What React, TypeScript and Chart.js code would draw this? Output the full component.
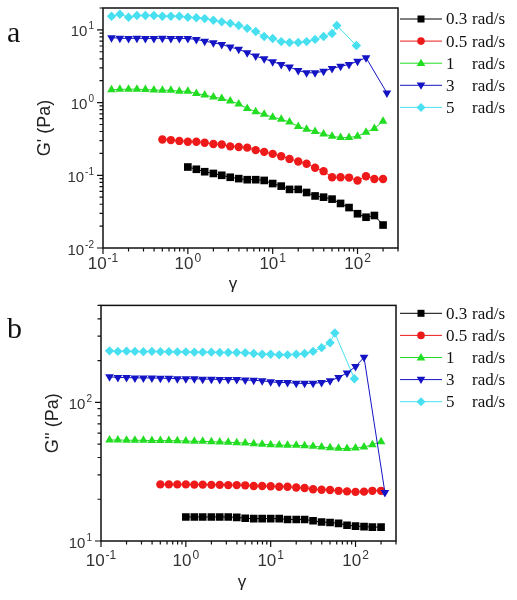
import React, { useEffect, useRef } from 'react';
import { Chart, registerables } from 'chart.js';

Chart.register(...registerables);

// strain amplitude grid (log sweep)
const STRAIN = [0.126, 0.158, 0.2, 0.251, 0.316, 0.398, 0.501, 0.631, 0.794, 1, 1.26, 1.58, 2, 2.51, 3.16, 3.98, 5.01, 6.31, 7.94, 10, 12.6, 15.8, 20, 25.1, 31.6, 39.8, 50.1, 63.1, 79.4, 100, 126, 158, 200];

const SPEEDS = ['0.3', '0.5', '1', '3', '5'];

const X_03 = STRAIN.slice(9);
const X_05 = STRAIN.slice(6);
const X_1 = STRAIN;
const X_3 = [...STRAIN.slice(0, 31), 222];
const X_5 = [...STRAIN.slice(0, 27), 57, 97];

// Panel a : G' (Pa)
const GP_03 = [0.13, 0.121, 0.112, 0.106, 0.1, 0.094, 0.09, 0.087, 0.087, 0.085, 0.077, 0.071, 0.064, 0.064, 0.058, 0.052, 0.05, 0.047, 0.041, 0.036, 0.0296, 0.0265, 0.028, 0.0207];
const GP_05 = [0.31, 0.305, 0.297, 0.29, 0.29, 0.28, 0.27, 0.265, 0.25, 0.245, 0.24, 0.222, 0.21, 0.197, 0.183, 0.168, 0.155, 0.144, 0.127, 0.114, 0.094, 0.094, 0.093, 0.085, 0.097, 0.089, 0.089];
const GP_1 = [1.5, 1.52, 1.53, 1.53, 1.51, 1.49, 1.48, 1.48, 1.43, 1.43, 1.33, 1.27, 1.19, 1.14, 1.05, 0.96, 0.83, 0.75, 0.69, 0.63, 0.59, 0.54, 0.47, 0.43, 0.4, 0.37, 0.345, 0.33, 0.33, 0.345, 0.39, 0.44, 0.555];
const GP_3 = [7.8, 7.7, 7.6, 7.7, 7.6, 7.6, 7.7, 7.6, 7.6, 7.6, 7.4, 7.0, 6.65, 6.3, 5.8, 5.4, 4.85, 4.36, 4.0, 3.65, 3.35, 3.08, 2.77, 2.57, 2.57, 2.7, 2.95, 3.15, 3.35, 3.7, 4.14, 1.36];
const GP_5 = [15.4, 16.4, 14.9, 15.8, 15.8, 15.8, 15.4, 15.4, 15.4, 14.9, 14.7, 14.3, 13.6, 12.9, 12.3, 11.5, 10.5, 9.5, 8.1, 7.6, 6.9, 6.7, 6.7, 6.9, 7.4, 8.1, 8.9, 11.5, 6.1];

// Panel b : G'' (Pa)
const GPP_03 = [14.9, 14.9, 14.9, 14.9, 14.9, 14.9, 14.8, 14.6, 14.5, 14.5, 14.5, 14.5, 14.3, 14.3, 14.3, 14.0, 13.7, 13.6, 13.4, 13.0, 12.8, 12.7, 12.6, 12.6];
const GPP_05 = [25.6, 25.6, 25.6, 25.6, 25.5, 25.5, 25.4, 25.4, 25.3, 25.3, 25.2, 24.9, 24.9, 24.8, 24.6, 24.6, 24.3, 24.1, 23.6, 23.4, 23.3, 23.0, 22.8, 22.6, 22.7, 23.0, 23.0];
const GPP_1 = [53.5, 53.5, 53.3, 53.3, 53.2, 53, 53, 53, 52.8, 52.6, 52.3, 52.3, 52, 51.8, 51.5, 51.2, 50.8, 50.2, 49.8, 49.5, 49.2, 49, 49, 48.6, 48.3, 47.6, 47, 46.6, 46.4, 46.8, 47.6, 49.5, 52];
const GPP_3 = [153, 151, 151, 150, 150, 150, 149, 149, 148, 148, 148, 147, 147, 146, 146, 146, 145, 144, 143, 140.5, 139, 139, 137, 137, 137, 139, 143, 151, 163, 181, 211, 22.4];
const GPP_5 = [235, 233, 234, 233, 232, 233, 232, 232, 231, 231, 230, 230, 230, 229, 229, 229, 228, 225, 222, 222, 220, 220, 222, 225, 233, 248, 269, 316, 148];

const X_SERIES = [X_03, X_05, X_1, X_3, X_5];
const A_SERIES = [GP_03, GP_05, GP_1, GP_3, GP_5];
const B_SERIES = [GPP_03, GPP_05, GPP_1, GPP_3, GPP_5];

const COLORS = ['#000000', '#ee1a1a', '#22dd22', '#1414c4', '#48e0f0'];
const POINT_STYLES = ['rect', 'circle', 'triangle', 'triangle', 'rectRot'];
const ROTATIONS = [0, 0, 0, 180, 0];
const RADII = [5.4, 4.2, 5, 5, 4.7];

const SANS = '"Liberation Sans", Arial, sans-serif';
const SERIF = '"Liberation Serif", "Times New Roman", serif';

function drawMarker(ctx: CanvasRenderingContext2D, i: number, x: number, y: number) {
  ctx.fillStyle = COLORS[i];
  ctx.beginPath();
  if (i === 0) {
    ctx.rect(x - 3.5, y - 3.5, 7, 7);
  } else if (i === 1) {
    ctx.arc(x, y, 3.8, 0, Math.PI * 2);
  } else if (i === 2) {
    ctx.moveTo(x, y - 4.5);
    ctx.lineTo(x + 4.3, y + 2.9);
    ctx.lineTo(x - 4.3, y + 2.9);
  } else if (i === 3) {
    ctx.moveTo(x, y + 4.5);
    ctx.lineTo(x + 4.3, y - 2.9);
    ctx.lineTo(x - 4.3, y - 2.9);
  } else {
    ctx.moveTo(x, y - 4.5);
    ctx.lineTo(x + 4.5, y);
    ctx.lineTo(x, y + 4.5);
    ctx.lineTo(x - 4.5, y);
  }
  ctx.closePath();
  ctx.fill();
}

function drawPow(ctx: CanvasRenderingContext2D, exp: number, x: number, yBase: number, baseSize: number, expSize: number, align: string, rise: number) {
  const base = '10';
  const e = String(exp);
  ctx.font = `${baseSize}px ${SANS}`;
  const wb = ctx.measureText(base).width;
  ctx.font = `${expSize}px ${SANS}`;
  const we = ctx.measureText(e).width;
  const total = wb + we + 1;
  const x0 = align === 'center' ? x - total / 2 : x - total;
  ctx.textAlign = 'left';
  ctx.textBaseline = 'alphabetic';
  ctx.font = `${baseSize}px ${SANS}`;
  ctx.fillText(base, x0, yBase);
  ctx.font = `${expSize}px ${SANS}`;
  ctx.fillText(e, x0 + wb + 1, yBase - rise);
}

function tickInfo(v: number) {
  const e = Math.floor(Math.log10(v) + 1e-9);
  const m = v / Math.pow(10, e);
  if (Math.abs(m - Math.round(m)) > 1e-6) return null;
  return { e, m: Math.round(m) };
}

const decor = {
  id: 'decor',
  afterDraw(chart: any, _args: any, opts: any) {
    const ctx: CanvasRenderingContext2D = chart.ctx;
    const { left, right, top, bottom } = chart.chartArea;
    const xs = chart.scales.x;
    const ys = chart.scales.y;
    ctx.save();
    ctx.strokeStyle = '#111';
    ctx.lineWidth = 1.5;
    ctx.strokeRect(left, top, right - left, bottom - top);

    ctx.lineWidth = 1.2;
    ctx.beginPath();
    xs.ticks.forEach((t: any) => {
      const info = tickInfo(t.value);
      if (!info) return;
      const px = xs.getPixelForValue(t.value);
      if (px < left - 1 || px > right + 1) return;
      const len = info.m === 1 ? 6 : 3.5;
      ctx.moveTo(px, bottom);
      ctx.lineTo(px, bottom + len);
    });
    ys.ticks.forEach((t: any) => {
      const info = tickInfo(t.value);
      if (!info) return;
      const py = ys.getPixelForValue(t.value);
      if (py < top - 1 || py > bottom + 1) return;
      const len = info.m === 1 ? 6 : 3.5;
      ctx.moveTo(left, py);
      ctx.lineTo(left - len, py);
    });
    ctx.stroke();

    ctx.fillStyle = '#333';
    xs.ticks.forEach((t: any) => {
      const info = tickInfo(t.value);
      if (!info || info.m !== 1) return;
      const px = xs.getPixelForValue(t.value);
      if (px < left - 1 || px > right + 1) return;
      drawPow(ctx, info.e, px, bottom + opts.xLabelDy, 17, 12, 'center', 7);
    });
    ys.ticks.forEach((t: any) => {
      const info = tickInfo(t.value);
      if (!info || info.m !== 1) return;
      const py = ys.getPixelForValue(t.value);
      if (py < top - 1 || py > bottom + 1) return;
      drawPow(ctx, info.e, left - 9, py + 6.5, 15, 10, 'right', 7);
    });

    // axis titles
    ctx.fillStyle = '#222';
    ctx.font = `17px ${SANS}`;
    ctx.textAlign = 'center';
    ctx.textBaseline = 'middle';
    ctx.fillText('γ', opts.gammaX, opts.gammaY);
    ctx.save();
    ctx.font = `18px ${SANS}`;
    ctx.translate(opts.yTitleX, (top + bottom) / 2);
    ctx.rotate(-Math.PI / 2);
    ctx.fillText(opts.yTitle, 0, 0);
    ctx.restore();

    // panel letter
    ctx.fillStyle = '#111';
    ctx.font = `30px ${SERIF}`;
    ctx.textAlign = 'left';
    ctx.textBaseline = 'alphabetic';
    ctx.fillText(opts.letter, 7, opts.letterY);

    // legend
    SPEEDS.forEach((s, i) => {
      const y = opts.legendY0 + i * 22.1;
      ctx.strokeStyle = COLORS[i];
      ctx.lineWidth = 1;
      ctx.beginPath();
      ctx.moveTo(400, y);
      ctx.lineTo(442, y);
      ctx.stroke();
      drawMarker(ctx, i, 421, y);
      ctx.fillStyle = '#111';
      ctx.font = `17px ${SERIF}`;
      ctx.textAlign = 'left';
      ctx.textBaseline = 'middle';
      ctx.fillText(s, 446, y + 1);
      ctx.fillText('rad/s', 472, y + 1);
    });
    ctx.restore();
  },
};

function makeChart(canvas: HTMLCanvasElement, series: number[][], p: any) {
  return new Chart(canvas, {
    type: 'scatter',
    data: {
      datasets: series.map((vals, i) => ({
        label: SPEEDS[i] + ' rad/s',
        data: X_SERIES[i].map((x, j) => ({ x, y: vals[j] })),
        showLine: true,
        borderColor: COLORS[i],
        backgroundColor: COLORS[i],
        borderWidth: 1,
        pointStyle: POINT_STYLES[i],
        pointRotation: ROTATIONS[i],
        pointRadius: RADII[i],
        pointBorderWidth: 0,
        pointBackgroundColor: COLORS[i],
        order: i === 3 ? -1 : 0,
      })),
    },
    options: {
      animation: false,
      responsive: false,
      events: [],
      layout: { padding: p.padding },
      plugins: {
        legend: { display: false },
        tooltip: { enabled: false },
        decor: p.decor,
      } as any,
      scales: {
        x: {
          type: 'logarithmic',
          min: 0.1,
          max: 300,
          grid: { display: false },
          border: { display: false },
          ticks: { display: false, autoSkip: false },
          afterFit: (s: any) => { s.height = 0; s.paddingLeft = 0; s.paddingRight = 0; },
        },
        y: {
          type: 'logarithmic',
          min: p.yMin,
          max: p.yMax,
          grid: { display: false },
          border: { display: false },
          ticks: { display: false, autoSkip: false },
          afterFit: (s: any) => { s.width = 0; s.paddingTop = 0; s.paddingBottom = 0; },
        },
      },
    } as any,
    plugins: [decor],
  });
}

export default function App() {
  const refA = useRef<HTMLCanvasElement>(null);
  const refB = useRef<HTMLCanvasElement>(null);

  useEffect(() => {
    const a = makeChart(refA.current!, A_SERIES, {
      padding: { left: 103, right: 119, top: 8, bottom: 52 },
      yMin: 0.01,
      yMax: 20,
      decor: { xLabelDy: 21, gammaX: 233, gammaY: 284, yTitleX: 45, yTitle: "G' (Pa)", letter: 'a', letterY: 42, legendY0: 19 },
    });
    const b = makeChart(refB.current!, B_SERIES, {
      padding: { left: 101, right: 121, top: 2, bottom: 59 },
      yMin: 10,
      yMax: 500,
      decor: { xLabelDy: 25, gammaX: 242, gammaY: 282, yTitleX: 53, yTitle: "G'' (Pa)", letter: 'b', letterY: 38, legendY0: 13.3 },
    });
    return () => { a.destroy(); b.destroy(); };
  }, []);

  return (
    <div style={{ position: 'absolute', left: 0, top: 0, width: 517, height: 600, background: '#fff' }}>
      <canvas ref={refA} width={517} height={300} style={{ position: 'absolute', left: 0, top: 0, width: 517, height: 300 }} />
      <canvas ref={refB} width={517} height={300} style={{ position: 'absolute', left: 0, top: 300, width: 517, height: 300 }} />
    </div>
  );
}
